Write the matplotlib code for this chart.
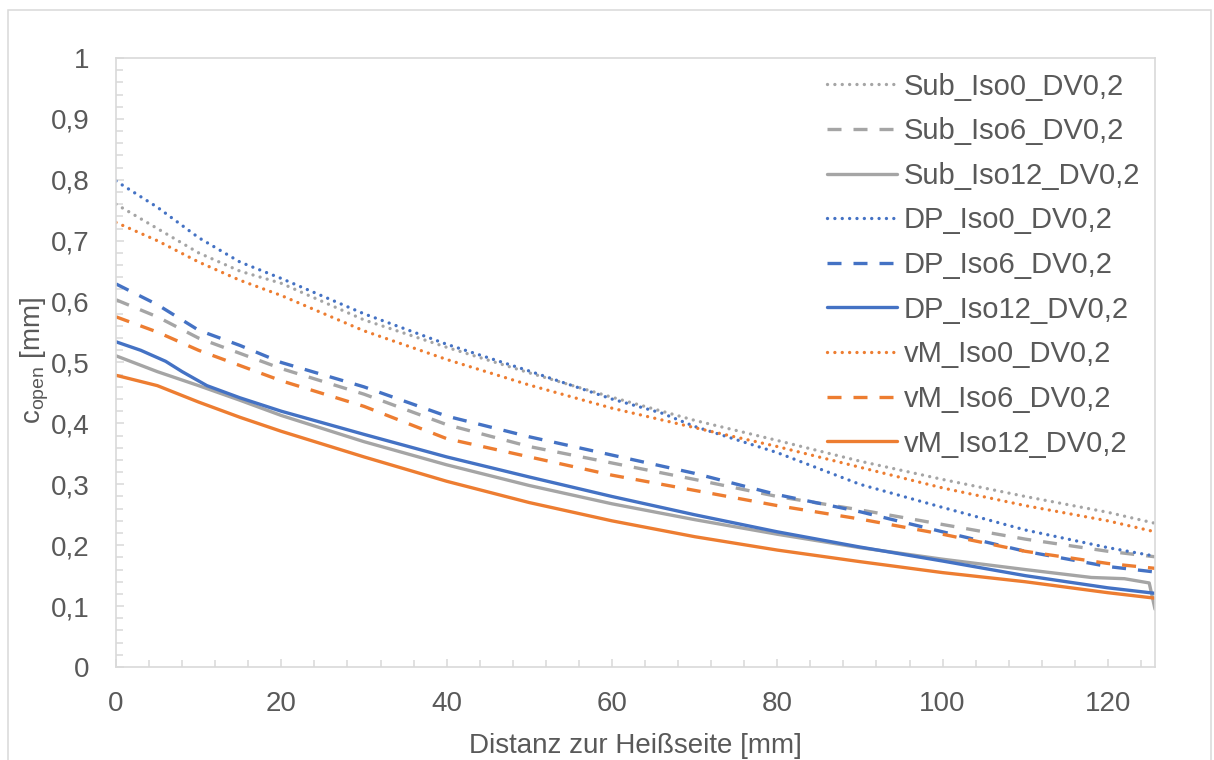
import matplotlib
matplotlib.use("Agg")
import matplotlib.pyplot as plt
from matplotlib.ticker import MultipleLocator, FuncFormatter
from matplotlib.patches import Rectangle

plt.rcParams['font.family'] = ['Liberation Sans', 'DejaVu Sans']
plt.rcParams['mathtext.fontset'] = 'custom'
plt.rcParams['mathtext.rm'] = 'Liberation Sans'
plt.rcParams['mathtext.it'] = 'Liberation Sans:italic'

# distance from the hot side [mm]
x_std = [0, 5, 10, 15, 20, 30, 40, 50, 60, 70, 80, 90, 100, 110, 120, 125.7]

sub_iso0 = [0.760, 0.720, 0.680, 0.650, 0.630, 0.570, 0.525, 0.483, 0.443, 0.405, 0.372, 0.338, 0.308, 0.280, 0.254, 0.236]
sub_iso6 = [0.603, 0.575, 0.540, 0.515, 0.490, 0.448, 0.398, 0.362, 0.335, 0.308, 0.280, 0.258, 0.234, 0.210, 0.190, 0.181]
x_sub12 = [0, 5, 10, 15, 20, 30, 40, 50, 60, 70, 80, 90, 100, 110, 118, 122, 125, 125.7]
sub_iso12 = [0.511, 0.485, 0.462, 0.438, 0.413, 0.370, 0.332, 0.298, 0.268, 0.242, 0.218, 0.196, 0.177, 0.160, 0.147, 0.145, 0.138, 0.095]

x_dp0 = [0, 5, 10, 15, 20, 30, 40, 50, 60, 66, 70, 80, 90, 100, 110, 120, 125.7]
dp_iso0 = [0.798, 0.755, 0.705, 0.665, 0.638, 0.580, 0.530, 0.486, 0.440, 0.417, 0.395, 0.352, 0.300, 0.262, 0.225, 0.196, 0.182]
dp_iso6 = [0.629, 0.595, 0.553, 0.528, 0.500, 0.460, 0.412, 0.378, 0.348, 0.318, 0.283, 0.255, 0.222, 0.190, 0.165, 0.156]
x_dp12 = [0, 3, 6, 8, 11, 15, 20, 30, 40, 50, 60, 70, 80, 90, 100, 110, 120, 125.7]
dp_iso12 = [0.534, 0.520, 0.502, 0.485, 0.462, 0.442, 0.420, 0.382, 0.345, 0.312, 0.280, 0.250, 0.222, 0.197, 0.174, 0.150, 0.130, 0.121]

vm_iso0 = [0.730, 0.700, 0.665, 0.635, 0.610, 0.552, 0.505, 0.463, 0.425, 0.393, 0.362, 0.328, 0.294, 0.265, 0.240, 0.222]
vm_iso6 = [0.575, 0.550, 0.520, 0.495, 0.470, 0.428, 0.375, 0.345, 0.315, 0.290, 0.265, 0.243, 0.218, 0.190, 0.170, 0.162]
vm_iso12 = [0.479, 0.462, 0.435, 0.410, 0.387, 0.345, 0.305, 0.270, 0.240, 0.214, 0.192, 0.173, 0.155, 0.140, 0.122, 0.113]

GRAY = '#A5A5A5'
BLUE = '#4472C4'
ORANGE = '#ED7D31'
TXT = '#595959'
GRID = '#D9D9D9'

DOT = (0, (0.01, 2.2))
DASH = (0, (4.2, 3.6))

series = [
    ("Sub_Iso0_DV0,2", x_std, sub_iso0, GRAY, DOT),
    ("Sub_Iso6_DV0,2", x_std, sub_iso6, GRAY, DASH),
    ("Sub_Iso12_DV0,2", x_sub12, sub_iso12, GRAY, '-'),
    ("DP_Iso0_DV0,2", x_dp0, dp_iso0, BLUE, DOT),
    ("DP_Iso6_DV0,2", x_std, dp_iso6, BLUE, DASH),
    ("DP_Iso12_DV0,2", x_dp12, dp_iso12, BLUE, '-'),
    ("vM_Iso0_DV0,2", x_std, vm_iso0, ORANGE, DOT),
    ("vM_Iso6_DV0,2", x_std, vm_iso6, ORANGE, DASH),
    ("vM_Iso12_DV0,2", x_std, vm_iso12, ORANGE, '-'),
]

fig = plt.figure(figsize=(12.14, 7.6), dpi=100)
ax = fig.add_axes([116/1214, 1-667/760, (1155-116)/1214, (667-58)/760])

for label, xs, ys, color, ls in series:
    cap = 'round' if ls == DOT else 'butt'
    ax.plot(xs, ys, color=color, linestyle=ls, linewidth=2.4,
            dash_capstyle=cap, solid_capstyle='round',
            solid_joinstyle='round', label=label)

ax.set_xlim(0, 125.7)
ax.set_ylim(0, 1)
ax.xaxis.set_major_locator(MultipleLocator(20))
ax.xaxis.set_minor_locator(MultipleLocator(4))
ax.yaxis.set_major_locator(MultipleLocator(0.1))
ax.yaxis.set_minor_locator(MultipleLocator(0.02))

fmt = FuncFormatter(lambda v, p: ('%g' % round(v, 4)).replace('.', ','))
ax.xaxis.set_major_formatter(fmt)
ax.yaxis.set_major_formatter(fmt)

for sp in ax.spines.values():
    sp.set_color(GRID)
    sp.set_linewidth(1.2)

ax.tick_params(which='both', direction='in', color=GRID, width=1.1,
               labelsize=20, labelcolor=TXT, top=False, right=False)
ax.tick_params(axis='y', which='major', length=6, pad=19)
ax.tick_params(axis='y', which='minor', length=5)
ax.tick_params(axis='x', which='major', length=6, pad=17)
ax.tick_params(axis='x', which='minor', length=5)

ax.set_xlabel("Distanz zur Heißseite [mm]", fontsize=20, color=TXT)
ax.xaxis.set_label_coords(0.5, -0.13)
ax.xaxis.label.set_va('center')
ax.set_ylabel(r"c$_{\mathrm{open}}$ [mm]", fontsize=20, color=TXT)
ax.yaxis.set_label_coords(-0.078, 0.504)
ax.yaxis.label.set_va('center')

leg = ax.legend(loc='upper right', bbox_to_anchor=(1.0, 1.0), frameon=False,
                fontsize=21, handlelength=2.4, handletextpad=0.25,
                labelspacing=0.57, borderaxespad=0.1)
for t in leg.get_texts():
    t.set_color(TXT)

fig.patches.append(Rectangle((8/1214, -5/760), (1211-8)/1214, (750+5)/760,
                             transform=fig.transFigure, fill=False,
                             edgecolor=GRID, linewidth=1.1))

fig.savefig("out.png", dpi=100)
